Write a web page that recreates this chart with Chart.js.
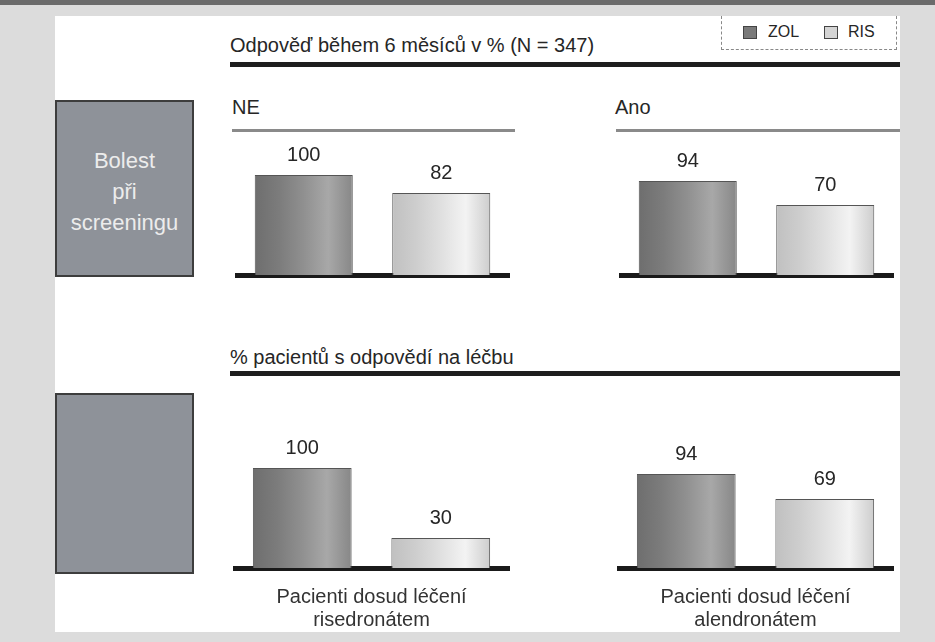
<!DOCTYPE html>
<html>
<head>
<meta charset="utf-8">
<script src="https://cdn.jsdelivr.net/npm/chart.js@4.4.0/dist/chart.umd.min.js"></script>
<style>
  body { margin:0; width:935px; height:642px; background:#dcdcdc; position:relative; overflow:hidden;
         font-family:'Liberation Sans',Arial,sans-serif; color:#262626; }
  .abs { position:absolute; }
  #band { left:0; top:0; width:935px; height:5px; background:#6b6b6b; }
  #panel { left:55px; top:16px; width:845px; height:616px; background:#fff; }
  .thick { height:5px; background:#1e1e1e; }
  .thin { height:3px; background:#8a8a8a; }
  .head { font-size:20px; line-height:23px; white-space:nowrap; }
  .box { left:55px; width:135px; background:#8e9299; border:2px solid #3d3d3d; }
  .box div { color:#ececec; font-size:22px; line-height:31px; text-align:center; }
  #legend { left:721px; top:16px; width:174px; height:33px; border:1px dashed #888; border-top:none; font-size:16px; }
  .sw { position:absolute; top:10px; width:12px; height:11px; border:1px solid #444; }
  .lt { position:absolute; top:6px; line-height:20px; }
  .chart { position:absolute; }
</style>
</head>
<body>
<div id="band" class="abs"></div>
<div id="panel" class="abs"></div>

<div id="legend" class="abs">
  <div class="sw" style="left:21px;background:#7a7a7a"></div><div class="lt" style="left:46px" id="lg0"></div>
  <div class="sw" style="left:102px;background:#d4d4d4"></div><div class="lt" style="left:126px" id="lg1"></div>
</div>

<div class="abs head" style="left:230px;top:34px">Odpověď během 6 měsíců v % (N = 347)</div>
<div class="abs thick" style="left:230px;top:62px;width:670px"></div>

<div class="abs box" style="top:100px;height:173px">
  <div style="margin-top:43px">Bolest</div><div>při</div><div>screeningu</div>
</div>
<div class="abs box" style="top:393px;height:177px"></div>

<div class="abs head" id="h0" style="left:232px;top:96px"></div>
<div class="abs thin" style="left:232px;top:129px;width:283px"></div>
<div class="abs head" id="h1" style="left:615px;top:96px"></div>
<div class="abs thin" style="left:616px;top:129px;width:284px"></div>

<div class="abs head" style="left:230px;top:346px">% pacientů s odpovědí na léčbu</div>
<div class="abs thick" style="left:230px;top:371px;width:670px"></div>

<div class="chart" style="left:235px;top:135px;width:275px;height:145px"><canvas id="c0"></canvas></div>
<div class="chart" style="left:619px;top:135px;width:275px;height:145px"><canvas id="c1"></canvas></div>
<div class="chart" style="left:233px;top:400px;width:277px;height:232px"><canvas id="c2"></canvas></div>
<div class="chart" style="left:617px;top:400px;width:277px;height:232px"><canvas id="c3"></canvas></div>

<script>
// data
const seriesNames = ['ZOL', 'RIS'];
const groupTitles = ['NE', 'Ano', ['Pacienti dosud léčení', 'risedronátem'], ['Pacienti dosud léčení', 'alendronátem']];
const zolValues = [100, 94, 100, 94];
const risValues = [82, 70, 30, 69];

const fontStack = "'Liberation Sans',Arial,sans-serif";
const barPct = 0.713;

// cylinder-like shading, left to right
const zolShade = ['#6e6e6e', '#7c7c7c', '#909090', '#a8a8a8', '#878787'];
const risShade = ['#c0c0c0', '#cecece', '#e0e0e0', '#f3f3f3', '#cdcdcd'];

document.getElementById('lg0').textContent = seriesNames[0];
document.getElementById('lg1').textContent = seriesNames[1];
document.getElementById('h0').textContent = groupTitles[0];
document.getElementById('h1').textContent = groupTitles[1];

function barFill(c) {
  const chart = c.chart, area = chart.chartArea;
  const stops = c.dataIndex === 0 ? zolShade : risShade;
  if (!area || c.dataIndex === undefined) return stops[2];
  const x = chart.scales.x.getPixelForValue(c.dataIndex);
  const half = area.width / seriesNames.length * barPct / 2;
  const g = chart.ctx.createLinearGradient(x - half, 0, x + half, 0);
  stops.forEach((col, k) => g.addColorStop(k / (stops.length - 1), col));
  return g;
}

// numbers above bars
const valueLabels = {
  id: 'valueLabels',
  afterDatasetsDraw(chart) {
    const ctx = chart.ctx;
    const meta = chart.getDatasetMeta(0);
    ctx.save();
    ctx.font = '20px ' + fontStack;
    ctx.fillStyle = '#262626';
    ctx.textAlign = 'center';
    ctx.textBaseline = 'middle';
    meta.data.forEach((bar, i) => {
      ctx.fillText(chart.data.datasets[0].data[i], bar.x, bar.y - 20);
    });
    ctx.restore();
  }
};

function makeChart(id, i, yMax, xTitle) {
  new Chart(document.getElementById(id), {
    type: 'bar',
    data: {
      labels: seriesNames,
      datasets: [{
        data: [zolValues[i], risValues[i]],
        backgroundColor: barFill,
        borderColor: '#555',
        borderWidth: 1,
        barPercentage: barPct,
        categoryPercentage: 1
      }]
    },
    options: {
      responsive: true,
      maintainAspectRatio: false,
      animation: false,
      layout: { padding: { bottom: xTitle ? 0 : 5 } },
      plugins: { legend: { display: false }, tooltip: { enabled: false } },
      scales: {
        x: {
          grid: { display: false, drawTicks: false },
          border: { display: true, color: '#1a1a1a', width: 5 },
          ticks: { display: false },
          title: {
            display: !!xTitle,
            text: xTitle || '',
            color: '#333',
            font: { family: fontStack, size: 20, lineHeight: 1.15 },
            padding: { top: 18, bottom: 0 }
          }
        },
        y: { display: false, min: 0, max: yMax }
      }
    },
    plugins: [valueLabels]
  });
}

makeChart('c0', 0, 140, null);
makeChart('c1', 1, 140, null);
makeChart('c2', 2, 168, groupTitles[2]);
makeChart('c3', 3, 168, groupTitles[3]);
</script>
</body>
</html>
